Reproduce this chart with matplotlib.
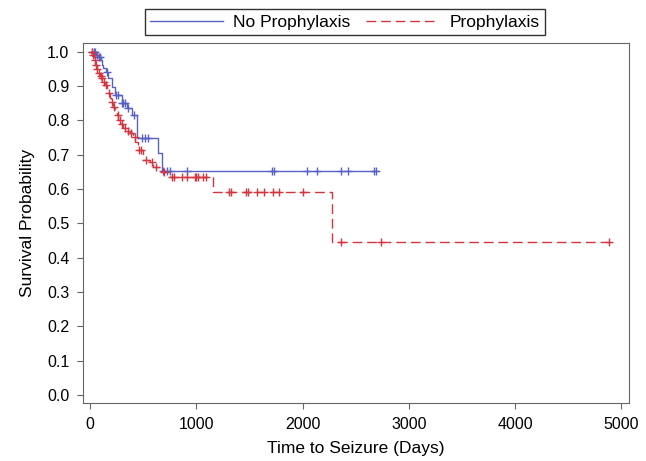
import matplotlib
matplotlib.use("Agg")
import matplotlib.pyplot as plt
import numpy as np

plt.rcParams['font.family'] = ['Liberation Sans', 'DejaVu Sans']

# Kaplan-Meier step curves: event day -> survival after it
no_proph_days = [0, 60, 78, 100, 110, 122, 150, 172, 204, 235, 298, 345, 392, 440, 643, 674]
no_proph_surv = [1.0, 0.99, 0.985, 0.975, 0.961, 0.952, 0.94, 0.922, 0.898, 0.874,
                 0.851, 0.835, 0.815, 0.748, 0.704, 0.652]
no_proph_end = 2691
no_proph_censor = [20, 35, 50, 70, 80, 90, 160, 240, 260, 300, 310, 330, 360, 410,
                   487, 518, 549, 690, 722, 753, 910, 1716, 1729, 2045, 2133, 2362,
                   2431, 2675, 2691]

proph_days = [0, 20, 40, 50, 65, 78, 95, 110, 125, 141, 157, 170, 188, 200, 219, 235,
              251, 265, 290, 313, 345, 376, 400, 423, 455, 502, 565, 596, 674, 753,
              1160, 2274]
proph_surv = [1.0, 0.99, 0.975, 0.961, 0.95, 0.937, 0.93, 0.922, 0.912, 0.903, 0.89,
              0.879, 0.865, 0.854, 0.84, 0.83, 0.815, 0.80, 0.79, 0.777, 0.77, 0.762,
              0.75, 0.738, 0.714, 0.685, 0.678, 0.665, 0.65, 0.635, 0.592, 0.445]
proph_end = 4887
proph_censor = [15, 30, 45, 55, 70, 85, 100, 115, 130, 150, 180, 210, 230, 260, 280,
                300, 330, 360, 390, 420, 460, 480, 530, 580, 620, 700, 769, 790, 863,
                910, 988, 1000, 1019, 1066, 1092, 1308, 1327, 1465, 1490, 1569, 1637,
                1719, 1778, 2001, 2359, 2738, 4887]

BLUE = '#5862c4'
RED = '#d3363f'


def draw_km(ax, days, surv, end, censor, color, ls, label):
    x = np.append(days, end)
    y = np.append(surv, surv[-1])
    ax.step(x, y, where='post', color=color, lw=1.0, linestyle=ls, label=label)
    c = np.array(censor)
    idx = np.searchsorted(days, c, side='right') - 1
    cy = np.array(surv)[idx]
    ax.plot(c, cy, linestyle='none', marker='+', color=color, ms=6, mew=1.0)


fig = plt.figure(figsize=(6.46, 4.61), dpi=100)
ax = fig.add_axes([0.128, 0.1265, 0.846, 0.7802])

draw_km(ax, no_proph_days, no_proph_surv, no_proph_end, no_proph_censor,
        BLUE, '-', 'No Prophylaxis')
draw_km(ax, proph_days, proph_surv, proph_end, proph_censor,
        RED, (0, (7, 3.5)), 'Prophylaxis')

ax.set_xlim(-69, 5075)
ax.set_ylim(-0.022, 1.025)
ax.set_xticks([0, 1000, 2000, 3000, 4000, 5000])
ax.set_yticks(np.arange(0, 1.01, 0.1))
ax.set_yticklabels([f"{v:.1f}" for v in np.arange(0, 1.01, 0.1)])
ax.tick_params(labelsize=11.5, direction='out', length=4, color='#666666')
ax.tick_params(axis='x', pad=6)
ax.tick_params(axis='y', pad=5.5)
for s in ax.spines.values():
    s.set_color('#666666')
ax.set_xlabel("Time to Seizure (Days)", fontsize=12.5, labelpad=7)
ax.set_ylabel("Survival Probability", fontsize=12.5, labelpad=9)

leg = fig.legend(loc='upper center', bbox_to_anchor=(0.534, 0.98), ncol=2,
                 fontsize=12.5, handlelength=4.2, handletextpad=0.6,
                 columnspacing=0.9, fancybox=False, frameon=True,
                 borderpad=0.3, borderaxespad=0)
leg.get_frame().set_edgecolor('black')
leg.get_frame().set_linewidth(1.0)

fig.savefig("out.png", dpi=100)
